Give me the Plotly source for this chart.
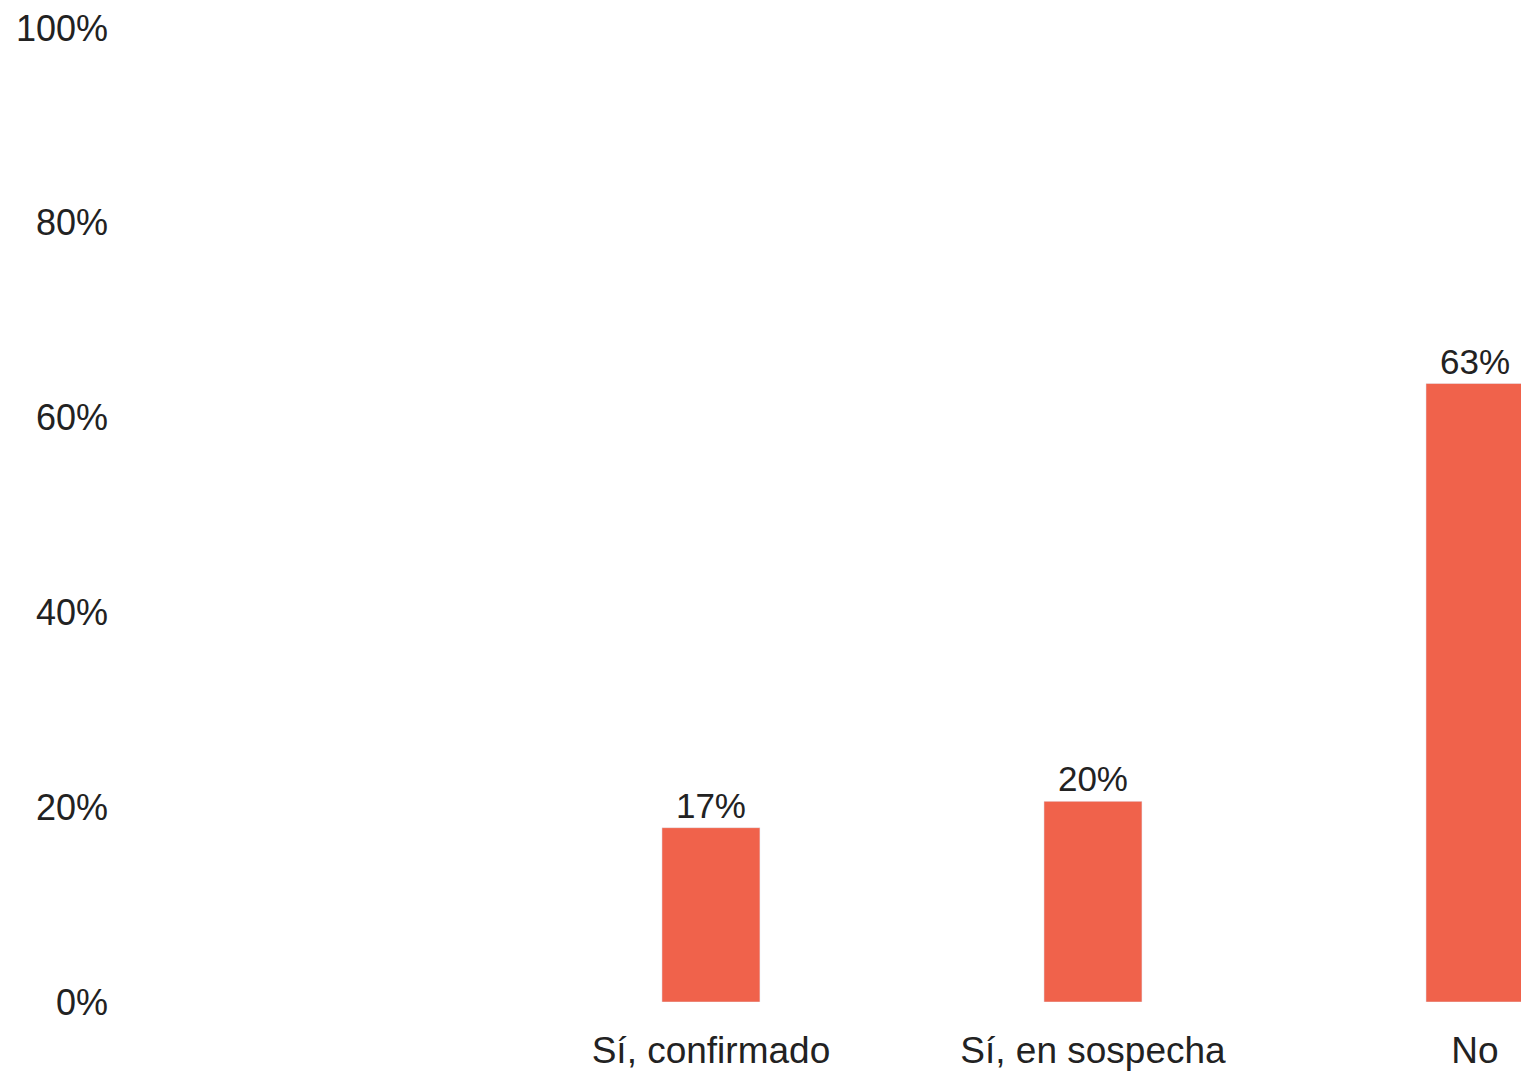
import plotly.graph_objects as go

# Data
categories = ['Sí, confirmado', 'Sí, en sospecha', 'No']
values = [17.9, 20.6, 63.5]
labels = ['17%', '20%', '63%']
y_ticks = [0, 20, 40, 60, 80, 100]
y_tick_text = [f'{v}%' for v in y_ticks]

BAR_COLOR = '#F0624B'
TEXT_COLOR = '#222222'
FONT = 'Liberation Sans, Arial, sans-serif'

fig = go.Figure()

fig.add_trace(go.Bar(
    x=categories,
    y=values,
    text=labels,
    textposition='outside',
    textfont=dict(size=35, color=TEXT_COLOR, family=FONT),
    marker_color=BAR_COLOR,
    width=0.2565,
    cliponaxis=False,
    showlegend=False
))

fig.update_layout(
    width=1529,
    height=1072,
    margin=dict(l=107, r=8, t=20, b=78),
    plot_bgcolor='white',
    paper_bgcolor='white',
    font=dict(family=FONT, color=TEXT_COLOR, size=36),
    xaxis=dict(
        range=[-1.560, 2.1414],
        showgrid=False,
        zeroline=False,
        showline=False,
        ticks='outside',
        ticklen=16,
        tickcolor='white',
        tickfont=dict(size=37),
        automargin=False
    ),
    yaxis=dict(
        range=[0, 100],
        tickvals=y_ticks,
        ticktext=y_tick_text,
        showgrid=False,
        zeroline=False,
        showline=False,
        ticks='',
        ticklabelstandoff=6,
        ticklabeloverflow='allow',
        tickfont=dict(size=36),
        automargin=False
    )
)

fig.write_html("out.html")
